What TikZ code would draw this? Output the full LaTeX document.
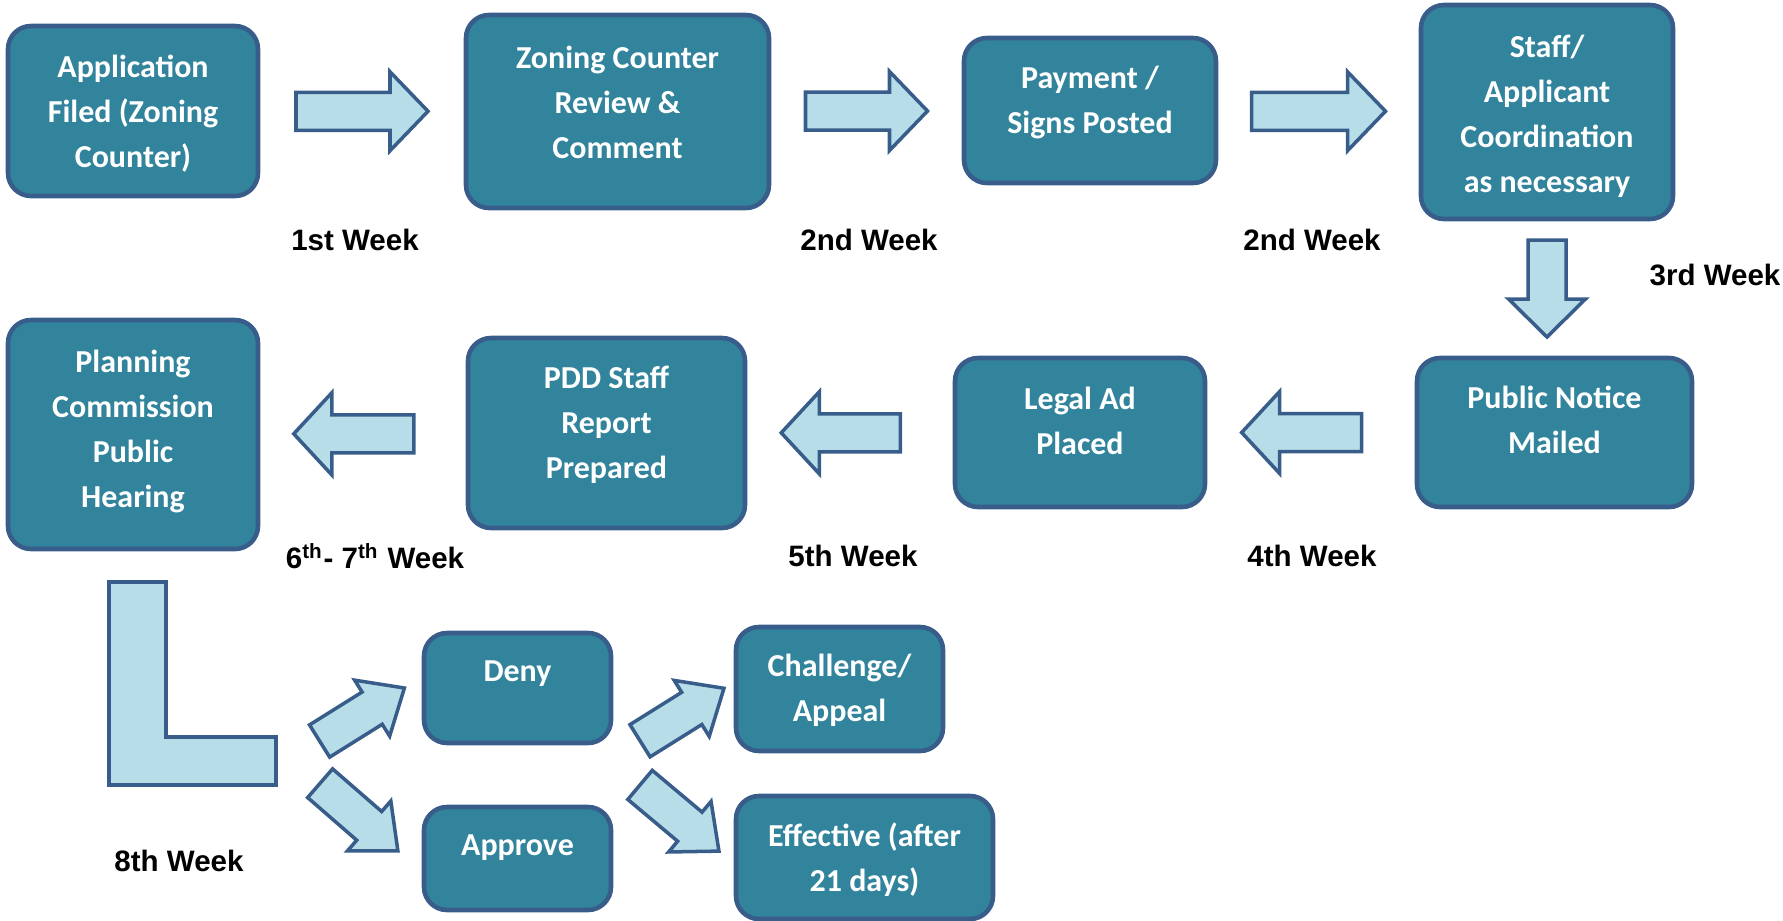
\documentclass[tikz,border=0pt]{standalone}
\usepackage{fontspec}
\setmainfont{Liberation Sans}
\newfontfamily\boxfont{Carlito}
\usetikzlibrary{calc}

\definecolor{boxteal}{HTML}{31849B}
\definecolor{edgeblue}{HTML}{385D8A}
\definecolor{arrowfill}{HTML}{B7DEE8}

\tikzset{
  stage/.style={draw=edgeblue, line width=1.3pt, fill=boxteal, rounded corners=0.23cm, inner sep=0pt},
  stagetext/.style={text=white, font=\boxfont\bfseries\fontsize{9.1}{12.8}\selectfont, align=center, inner sep=0pt},
  week/.style={font=\bfseries\fontsize{8.4}{10}\selectfont, inner sep=0pt},
  arrowshape/.style={draw=edgeblue, line width=1pt, fill=arrowfill, line join=miter},
  % block arrow along +x, centred at the origin: length / half head width
  pics/blockarrow/.style args={#1/#2}{code={
    \draw[arrowshape]
      (-#1/2,-0.19) -- (#1/2-0.38,-0.19) -- (#1/2-0.38,-#2) -- (#1/2,0)
      -- (#1/2-0.38,#2) -- (#1/2-0.38,0.19) -- (-#1/2,0.19) -- cycle;
  }},
}

\begin{document}
\begin{tikzpicture}
        \useasboundingbox (0,0) rectangle (17.83,-9.20);

        % first row
        \node[stage, minimum width=2.50cm, minimum height=1.70cm] (app) at (1.33,-1.11) {};
        \node[stagetext] (app-txt) at ([yshift=-0.03cm]app.center) {Application\\Filed (Zoning\\Counter)};
        \node[stage, minimum width=3.03cm, minimum height=1.93cm] (review) at (6.175,-1.115) {};
        \node[stagetext] (review-txt) at ([yshift=0.09cm]review.center) {Zoning Counter\\Review \&\\Comment};
        \node[stage, minimum width=2.52cm, minimum height=1.45cm] (pay) at (10.90,-1.105) {};
        \node[stagetext] (pay-txt) at ([yshift=0.08cm]pay.center) {Payment /\\Signs Posted};
        \node[stage, minimum width=2.52cm, minimum height=2.14cm] (staff) at (15.47,-1.12) {};
        \node[stagetext] (staff-txt) at ([yshift=-0.04cm]staff.center) {Staff/\\Applicant\\Coordination\\as necessary};

        % second row
        \node[stage, minimum width=2.75cm, minimum height=1.49cm] (notice) at (15.545,-4.325) {};
        \node[stagetext] (notice-txt) at ([yshift=0.13cm]notice.center) {Public Notice\\Mailed};
        \node[stage, minimum width=2.50cm, minimum height=1.49cm] (legal) at (10.80,-4.325) {};
        \node[stagetext] (legal-txt) at ([yshift=0.12cm]legal.center) {Legal Ad\\Placed};
        \node[stage, minimum width=2.77cm, minimum height=1.90cm] (pdd) at (6.065,-4.33) {};
        \node[stagetext] (pdd-txt) at ([yshift=0.08cm]pdd.center) {PDD Staff\\Report\\Prepared};
        \node[stage, minimum width=2.50cm, minimum height=2.29cm] (plan) at (1.33,-4.345) {};
        \node[stagetext] (plan-txt) at ([yshift=0.03cm]plan.center) {Planning\\Commission\\Public\\Hearing};

        % decision row
        \node[stage, minimum width=1.87cm, minimum height=1.10cm] (deny) at (5.175,-6.88) {};
        \node[stagetext] (deny-txt) at ([yshift=0.14cm]deny.center) {Deny};
        \node[stage, minimum width=1.87cm, minimum height=1.03cm] (approve) at (5.175,-8.585) {};
        \node[stagetext] (approve-txt) at ([yshift=0.11cm]approve.center) {Approve};
        \node[stage, minimum width=2.07cm, minimum height=1.24cm] (appeal) at (8.395,-6.89) {};
        \node[stagetext] (appeal-txt) at ([yshift=-0.01cm]appeal.center) {Challenge/\\Appeal};
        \node[stage, minimum width=2.57cm, minimum height=1.23cm] (effective) at (8.645,-8.575) {};
        \node[stagetext] (effective-txt) at ([yshift=-0.02cm]effective.center) {Effective (after\\21 days)};

        % block arrows between the stages
        \pic at ($(app.east)!0.5!(review.west)$) {blockarrow=1.32/0.395};
        \pic at ($(review.east)!0.5!(pay.west)$) {blockarrow=1.22/0.395};
        \pic at ($(pay.east)!0.5!(staff.west)$) {blockarrow=1.34/0.395};
        \pic[rotate=-90] at ($(staff.south)!0.5!(staff.south |- notice.north)$) {blockarrow=0.97/0.385};
        \pic[rotate=180] at ($(notice.west)!0.545!(legal.east)$) {blockarrow=1.20/0.41};
        \pic[rotate=180] at ($(legal.west)!0.545!(pdd.east)$) {blockarrow=1.19/0.41};
        \pic[rotate=180] at ($(pdd.west)!0.545!(plan.east)$) {blockarrow=1.20/0.41};

        % L shape under the hearing
        \draw[arrowshape] (1.09,-5.82) -- (1.66,-5.82) -- (1.66,-7.37) -- (2.76,-7.37)
          -- (2.76,-7.85) -- (1.09,-7.85) -- cycle;

        % split arrows
        \pic[rotate=32] at (3.62,-7.145) {blockarrow=1.00/0.33};
        \pic[rotate=-41] at (3.59,-8.17) {blockarrow=1.03/0.33};
        \pic[rotate=32] at (6.82,-7.145) {blockarrow=0.99/0.33};
        \pic[rotate=-40] at (6.795,-8.18) {blockarrow=1.03/0.33};

        % week labels
        \node[week] (w1) at (3.55,-2.40) {1st Week};
        \node[week] (w2a) at (8.69,-2.40) {2nd Week};
        \node[week] (w2b) at (13.12,-2.40) {2nd Week};
        \node[week] (w3) at (17.15,-2.75) {3rd Week};
        \node[week] (w67) at (3.75,-5.56) {6\textsuperscript{th}- 7\textsuperscript{th} Week};
        \node[week] (w5) at (8.53,-5.56) {5th Week};
        \node[week] (w4) at (13.12,-5.56) {4th Week};
        \node[week] (w8) at (1.79,-8.61) {8th Week};
\end{tikzpicture}
\end{document}
